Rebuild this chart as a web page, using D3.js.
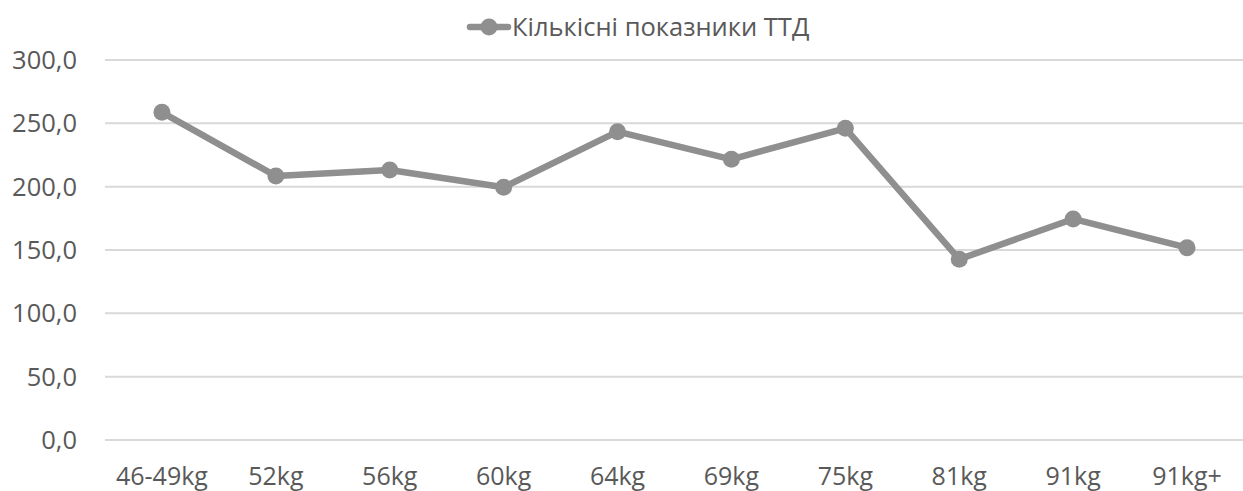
<!DOCTYPE html>
<html>
<head>
<meta charset="utf-8">
<script src="https://cdn.jsdelivr.net/npm/d3@7"></script>
<style>
body { margin: 0; background: #fff; }
text { font-family: "Open Sans", "Liberation Sans", sans-serif; fill: #595959; }
</style>
</head>
<body>
<script>
var categories = ["46-49kg", "52kg", "56kg", "60kg", "64kg", "69kg", "75kg", "81kg", "91kg", "91kg+"]
var values = [258.7, 208.4, 213.2, 199.5, 243.4, 221.6, 246.1, 142.7, 174.5, 151.8]
var yTicks = [0, 50, 100, 150, 200, 250, 300]
var seriesName = "Кількісні показники ТТД"

var width = 1243, height = 491
var plotLeft = 105, plotRight = 1244, plotTop = 60, plotBottom = 440

var svg = d3.select("body").append("svg")
  .attr("width", width)
  .attr("height", height)

var x = d3.scalePoint()
  .domain(categories)
  .range([plotLeft, plotRight])
  .padding(0.5)

var y = d3.scaleLinear()
  .domain([0, 300])
  .range([plotBottom, plotTop])

// gridlines
svg.append("g")
  .selectAll("line")
  .data(yTicks)
  .enter().append("line")
  .attr("x1", plotLeft)
  .attr("x2", plotRight)
  .attr("y1", d => y(d))
  .attr("y2", d => y(d))
  .style("stroke", "#d9d9d9")
  .style("stroke-width", 2)

// y labels
var fmt = d => d3.format(".1f")(d).replace(".", ",")
svg.append("g")
  .selectAll("text")
  .data(yTicks)
  .enter().append("text")
  .attr("x", 77)
  .attr("y", d => y(d))
  .attr("dy", "0.35em")
  .attr("text-anchor", "end")
  .style("font-size", "25.5px")
  .text(fmt)

// x labels
svg.append("g")
  .selectAll("text")
  .data(categories)
  .enter().append("text")
  .attr("x", d => x(d))
  .attr("y", 485)
  .attr("text-anchor", "middle")
  .style("font-size", "25px")
  .text(d => d)

var line = d3.line()
  .x((d, i) => x(categories[i]))
  .y(d => y(d))

svg.append("path")
  .datum(values)
  .attr("d", line)
  .style("fill", "none")
  .style("stroke", "#8f8f8f")
  .style("stroke-width", 6.5)
  .style("stroke-linejoin", "round")

svg.append("g")
  .selectAll("circle")
  .data(values)
  .enter().append("circle")
  .attr("cx", (d, i) => x(categories[i]))
  .attr("cy", d => y(d))
  .attr("r", 8.5)
  .style("fill", "#8f8f8f")

// legend
var lg = svg.append("g").attr("transform", "translate(470,27)")
lg.append("line")
  .attr("x1", 0).attr("x2", 38)
  .style("stroke", "#8f8f8f")
  .style("stroke-width", 6.5)
  .style("stroke-linecap", "round")
lg.append("circle")
  .attr("cx", 19).attr("r", 8.5)
  .style("fill", "#8f8f8f")
lg.append("text")
  .attr("x", 42)
  .attr("dy", "0.35em")
  .style("font-size", "25.5px")
  .text(seriesName)
</script>
</body>
</html>
